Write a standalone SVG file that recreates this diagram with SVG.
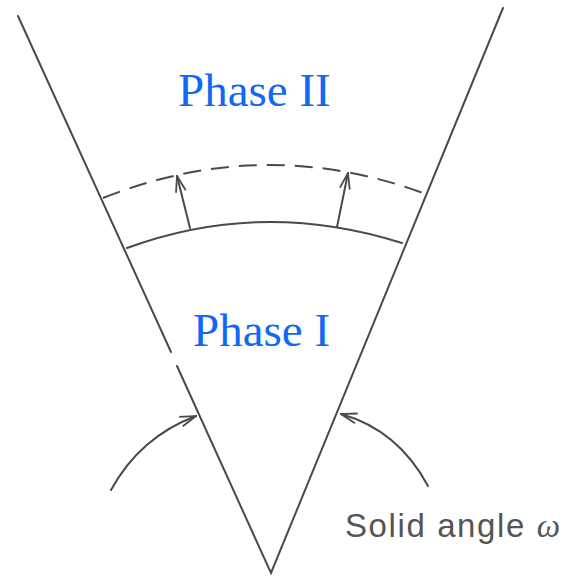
<svg xmlns="http://www.w3.org/2000/svg" width="569" height="579" viewBox="0 0 569 579">
<style>
.ln{fill:none;stroke:#4a4a4a;stroke-width:2;stroke-linecap:round}
.dash{stroke-dasharray:18 10;stroke-linecap:butt}
.ph{font-family:"Liberation Serif","Times New Roman",serif;font-size:47px;fill:#1068f5}
.lbl{font-family:"Liberation Sans",Arial,sans-serif;font-size:33px;fill:#555}
</style>
<defs>
<marker id="ah" viewBox="0 0 18 12" refX="17" refY="6" markerWidth="18" markerHeight="12" markerUnits="userSpaceOnUse" orient="auto">
<path d="M1,1 L17,6 L1,11" fill="none" stroke="#4a4a4a" stroke-width="1.8"/>
</marker>
</defs>
<rect width="569" height="579" fill="#fff"/>
<g id="cone">
<path class="ln" d="M18,16 L171,352 M177,366 L271,573 L503,8"/>
</g>
<g id="phase1-front">
<path class="ln" d="M127,248 Q261.5,198.5 402,243"/>
</g>
<g id="phase2-front">
<path class="ln dash" d="M103,198 Q263,134.5 423,193"/>
</g>
<g id="connectors">
<path class="ln" d="M190,228 L177,176" marker-end="url(#ah)"/>
<path class="ln" d="M337,227 L348,173" marker-end="url(#ah)"/>
<path class="ln" d="M111,490 Q140,437 196,416" marker-end="url(#ah)"/>
<path class="ln" d="M428,486 Q398,430 341,414" marker-end="url(#ah)"/>
</g>
<g id="label-phase2"><text class="ph" x="178" y="106">Phase II</text></g>
<g id="label-phase1"><text class="ph" x="193" y="346">Phase I</text></g>
<g id="label-angle"><text class="lbl" x="345" y="537" letter-spacing="1.6">Solid angle <tspan font-family="Liberation Serif,serif" font-style="italic">ω</tspan></text></g>
</svg>
